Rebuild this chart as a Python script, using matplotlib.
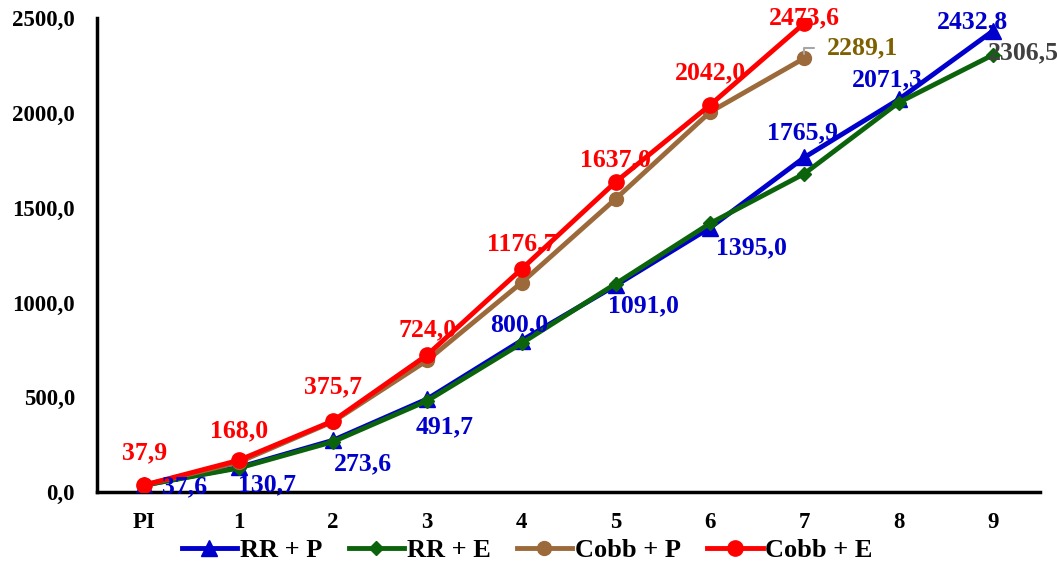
import matplotlib.pyplot as plt
from matplotlib.ticker import FuncFormatter

# categorias do eixo x e series
categorias = ["PI", "1", "2", "3", "4", "5", "6", "7", "8", "9"]
rr_p = [37.6, 130.7, 273.6, 491.7, 800.0, 1091.0, 1395.0, 1765.9, 2071.3, 2432.8]
rr_e = [37.0, 127.0, 266.0, 482.0, 785.0, 1100.0, 1418.0, 1680.0, 2055.0, 2306.5]
cobb_p = [38.0, 158.0, 372.0, 695.0, 1105.0, 1548.0, 2005.0, 2289.1]
cobb_e = [37.9, 168.0, 375.7, 724.0, 1176.7, 1637.0, 2042.0, 2473.6]

AZUL = "#0000CC"
VERDE = "#0B640B"
MARROM = "#9C6A3A"
VERMELHO = "#FF0000"

plt.rcParams["font.family"] = ["Liberation Serif", "DejaVu Serif"]
plt.rcParams["font.weight"] = "bold"
plt.rcParams["font.size"] = 16.5

fig = plt.figure(figsize=(10.57, 5.69), dpi=100)
ax = fig.add_axes([0.092, 0.135, 0.892, 0.833])

x = list(range(len(categorias)))
ax.plot(x, rr_p, color=AZUL, lw=3.5, marker="^", ms=11, label="RR + P", zorder=3)
ax.plot(x, rr_e, color=VERDE, lw=3.5, marker="D", ms=7, label="RR + E", zorder=4)
ax.plot(x[:len(cobb_p)], cobb_p, color=MARROM, lw=3.5, marker="o", ms=10, label="Cobb + P", zorder=5)
ax.plot(x[:len(cobb_e)], cobb_e, color=VERMELHO, lw=3.5, marker="o", ms=11, label="Cobb + E", zorder=6)

def fmt(v):
    return f"{v:.1f}".replace(".", ",")

PX = 0.72  # pixels -> pontos a 100 dpi

# deslocamento (pixels) de cada rotulo
desloc_azul = [(40, -2), (28, -17), (30, -23), (17, -28), (-2, 16),
               (28, -20), (41, -20), (-2, 25), (-11, 20), (-20, 9)]
desloc_vermelho = [32, 30, 34, 25, 25, 22, 32, 5]

for i, v in enumerate(rr_p):
    dx, dy = desloc_azul[i]
    ax.annotate(fmt(v), (i, v), xytext=(dx * PX, dy * PX), textcoords="offset points",
                ha="center", va="center", color=AZUL, fontsize=18.5, zorder=8)

for i, v in enumerate(cobb_e):
    ax.annotate(fmt(v), (i, v), xytext=(0, desloc_vermelho[i] * PX), textcoords="offset points",
                ha="center", va="center", color=VERMELHO, fontsize=18.5, zorder=8)

# rotulo final de Cobb + P com linha guia
ax.annotate(fmt(cobb_p[-1]), (7, cobb_p[-1]), xytext=(58 * PX, 10 * PX), textcoords="offset points",
            ha="center", va="center", color="#7F6000", fontsize=18.5, zorder=8,
            arrowprops=dict(arrowstyle="-", color="#A6A6A6", lw=1.5,
                            connectionstyle="angle,angleA=0,angleB=90,rad=0",
                            shrinkA=7, shrinkB=3))

ax.annotate(fmt(rr_e[-1]), (9, rr_e[-1]), xytext=(30 * PX, 2 * PX), textcoords="offset points",
            ha="center", va="center", color="#404040", fontsize=18.5, zorder=8)

ax.set_xlim(-0.5, 9.5)
ax.set_ylim(0, 2500)
ax.set_xticks(x)
ax.set_xticklabels(categorias)
ax.set_yticks(range(0, 2501, 500))
ax.yaxis.set_major_formatter(FuncFormatter(lambda v, p: fmt(v)))
ax.tick_params(length=0, pad=14)
ax.tick_params(axis="y", pad=16)

for lado in ["top", "right"]:
    ax.spines[lado].set_visible(False)
for lado in ["left", "bottom"]:
    ax.spines[lado].set_linewidth(2.5)

ax.legend(loc="center", bbox_to_anchor=(0.456, -0.122), ncol=4, frameon=False,
          handlelength=2.1, handletextpad=0.1, columnspacing=1.0,
          prop={"weight": "bold", "size": 19})

fig.savefig("out.png", dpi=100)
